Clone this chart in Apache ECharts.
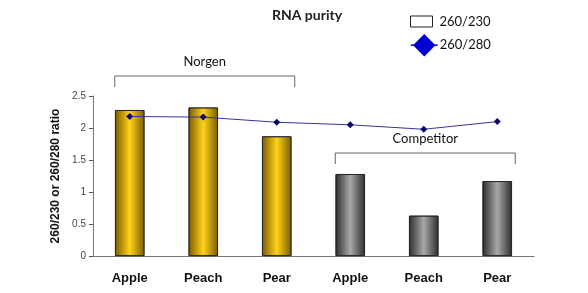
<!DOCTYPE html>
<html><head><meta charset="utf-8">
<script src="https://cdn.jsdelivr.net/npm/echarts@6/dist/echarts.min.js"></script>
<style>html,body{margin:0;padding:0;background:#fff}#c{width:588px;height:293px}</style>
</head><body><div id="c"></div>
<script>
var categories = ['Apple', 'Peach', 'Pear', 'Apple', 'Peach', 'Pear'];
var ratio230 = [2.28, 2.32, 1.87, 1.28, 0.63, 1.17];
var ratio280 = [2.18, 2.17, 2.09, 2.05, 1.98, 2.10];
var yTicks = [0, 0.5, 1, 1.5, 2, 2.5];
var groups = [{name: 'Norgen', from: 0, to: 2}, {name: 'Competitor', from: 3, to: 5}];

function grad(edge, mid) {
  return new echarts.graphic.LinearGradient(0, 0, 1, 0, [
    {offset: 0, color: edge}, {offset: 0.5, color: mid}, {offset: 1, color: edge}
  ]);
}
var gold = grad('#7a5c00', '#ffd21a');
var grey = grad('#2e2e2e', '#a8a8a8');

var chart = echarts.init(document.getElementById('c'), null, {renderer: 'canvas'});
chart.setOption({
  animation: false,
  title: {
    text: 'RNA purity', left: 302, top: 3, textAlign: 'center',
    textStyle: {fontFamily: 'Lato', fontWeight: 'bold', fontSize: 14, color: '#222'}
  },
  legend: [
    {data: [{name: '260/230', icon: 'rect', itemStyle: {color: '#fff', borderColor: '#222', borderWidth: 1}}],
     left: 405, top: 10, itemWidth: 22, itemHeight: 11, itemGap: 12,
     textStyle: {fontFamily: 'Lato', fontSize: 13, color: '#111', padding: [0, 0, 0, 2]}},
    {data: [{name: '260/280', itemStyle: {color: '#0000d0'}, lineStyle: {color: '#0000d0', width: 1.5}}],
     left: 405, top: 29, itemWidth: 27, itemHeight: 28,
     textStyle: {fontFamily: 'Lato', fontSize: 13, color: '#111', padding: [0, 0, 0, -3]}}
  ],
  grid: {left: 93, right: 54, top: 96, bottom: 37},
  xAxis: {
    type: 'category', data: categories,
    axisLine: {lineStyle: {color: '#777'}},
    axisTick: {length: 5, lineStyle: {color: '#555'}},
    axisLabel: {margin: 16, fontFamily: 'Liberation Sans Narrow, Liberation Sans', fontWeight: 'bold', fontSize: 13, color: '#111'}
  },
  yAxis: {
    type: 'value', min: 0, max: 2.5, interval: 0.5,
    name: '260/230 or 260/280 ratio', nameLocation: 'middle', nameGap: 28,
    nameTextStyle: {fontFamily: 'Liberation Sans', fontWeight: 'bold', fontSize: 12, color: '#111'},
    axisLine: {show: true, lineStyle: {color: '#777'}},
    axisTick: {show: true, length: 4, lineStyle: {color: '#555'}},
    splitLine: {show: false},
    axisLabel: {margin: 7, fontFamily: 'Liberation Sans Narrow, Liberation Sans', fontSize: 10, color: '#444',
      formatter: function (v) { return yTicks.indexOf(v) >= 0 ? String(v) : ''; }}
  },
  series: [
    {name: '260/230', type: 'bar', barWidth: '40%',
     data: ratio230.map(function (v, i) {
       return {value: v, itemStyle: {color: i < 3 ? gold : grey, borderColor: '#222', borderWidth: 0.8}};
     })},
    {name: '260/280', type: 'line', data: ratio280, symbol: 'diamond', symbolSize: 7,
     lineStyle: {color: '#34349a', width: 1}, itemStyle: {color: '#0a0a60'}}
  ]
});

var els = [];
groups.forEach(function (g) {
  var x0 = chart.convertToPixel({xAxisIndex: 0}, g.from) - 15;
  var x1 = chart.convertToPixel({xAxisIndex: 0}, g.to) + 18;
  var yTop = g.name === 'Norgen' ? 76 : 153;
  els.push({type: 'polyline', shape: {points: [[x0, yTop + 11], [x0, yTop], [x1, yTop], [x1, yTop + 11]]},
    style: {stroke: '#666', lineWidth: 1, fill: null}});
  els.push({type: 'text', x: (x0 + x1) / 2, y: yTop - 14,
    style: {text: g.name, fontFamily: 'Lato', fontSize: 13, fill: '#111', align: 'center', verticalAlign: 'middle'}});
});
chart.setOption({graphic: els});
</script></body></html>
